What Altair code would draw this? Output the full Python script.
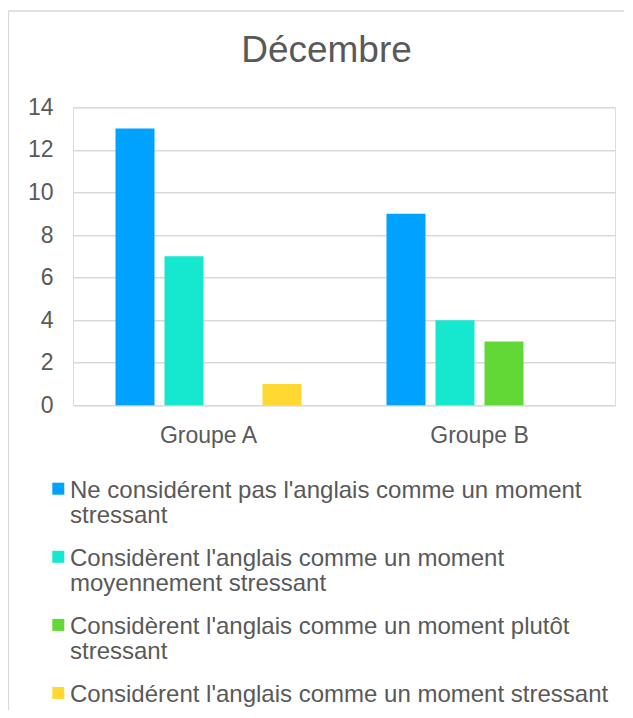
import altair as alt
import pandas as pd

# ---- data ----
groups = ["Groupe A", "Groupe B"]
series = [
    "Ne considérent pas l'anglais comme un moment stressant",
    "Considèrent l'anglais comme un moment moyennement stressant",
    "Considèrent l'anglais comme un moment plutôt stressant",
    "Considérent l'anglais comme un moment stressant",
]
legend_labels = [
    "Ne considérent pas l'anglais comme un moment\nstressant",
    "Considèrent l'anglais comme un moment\nmoyennement stressant",
    "Considèrent l'anglais comme un moment plutôt\nstressant",
    "Considérent l'anglais comme un moment stressant",
]
values_groupe_a = [13, 7, 0, 1]
values_groupe_b = [9, 4, 3, 0]
colors = ["#00A2FF", "#16E7CF", "#61D836", "#FFD932"]
y_ticks = [0, 2, 4, 6, 8, 10, 12, 14]

rows = []
for g, vals in zip(groups, [values_groupe_a, values_groupe_b]):
    for s, v in zip(series, vals):
        rows.append({"groupe": g, "serie": s, "valeur": v})
df = pd.DataFrame(rows)
legend_df = pd.DataFrame({"serie": series, "label": legend_labels})

FONT = "Liberation Sans"
TXT = "#595959"
GRID = "#d9d9d9"

color_scale = alt.Scale(domain=series, range=colors)

bars = alt.Chart(df).mark_bar().encode(
    x=alt.X(
        "groupe:N",
        sort=groups,
        scale=alt.Scale(paddingInner=0, paddingOuter=0),
        axis=alt.Axis(
            title=None, labelAngle=0, ticks=False, domain=False, grid=False,
            labelFontSize=23, labelColor=TXT, labelFont=FONT, labelPadding=19,
        ),
    ),
    xOffset=alt.XOffset(
        "serie:N", sort=series,
        scale=alt.Scale(paddingInner=0.204, paddingOuter=0.867),
    ),
    y=alt.Y(
        "valeur:Q",
        scale=alt.Scale(domain=[0, 14], nice=False),
        axis=alt.Axis(
            title=None, values=y_ticks, ticks=False, domain=False,
            labelFontSize=23, labelColor=TXT, labelFont=FONT, labelPadding=20,
            gridColor=GRID, gridWidth=1.5,
        ),
    ),
    color=alt.Color("serie:N", scale=color_scale, legend=None),
)

legend_y = alt.Y(
    "serie:N",
    sort=series,
    scale=alt.Scale(type="point", domain=series, range=[381.4, 585.7], padding=0),
    axis=None,
)

legend_sq = alt.Chart(legend_df).mark_square(size=144, opacity=1).encode(
    x=alt.value(-14.7),
    y=legend_y,
    color=alt.Color("serie:N", scale=color_scale, legend=None),
)

legend_txt = alt.Chart(legend_df).mark_text(
    align="left", baseline="alphabetic", dy=9, lineBreak="\n",
    lineHeight=25, fontSize=24, color=TXT, font=FONT,
).encode(
    x=alt.value(-3),
    y=legend_y,
    text="label:N",
)

frame_src = pd.DataFrame({"k": [0]})
frame_left = alt.Chart(frame_src).mark_rule(color=GRID, strokeWidth=1.3).encode(
    x=alt.value(-64.5), y=alt.value(-96.3), y2=alt.value(602.7)
)
frame_top = alt.Chart(frame_src).mark_rule(color=GRID, strokeWidth=1.3).encode(
    x=alt.value(-64.5), x2=alt.value(551), y=alt.value(-96.3)
)

chart = (
    alt.layer(frame_left, frame_top, bars, legend_sq, legend_txt)
    .resolve_scale(y="independent")
    .properties(
        width=542,
        height=298,
        title=alt.Title(
            "Décembre", fontSize=37, color=TXT, font=FONT, fontWeight="normal",
            anchor="middle", frame="group", dx=-17.5, baseline="alphabetic",
            offset=0, dy=89,
        ),
        autosize=alt.AutoSizeParams(type="none"),
        padding={"left": 65, "top": 99.3, "right": 10, "bottom": 304.7},
    )
    .configure_view(stroke=None)
    .configure(background="white")
)

chart.save("out.html", embed_options={"renderer": "svg", "actions": False})
